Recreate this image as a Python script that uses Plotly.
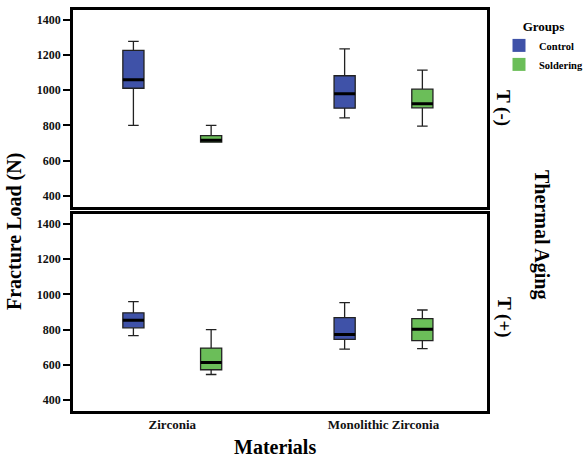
import plotly.graph_objects as go

# ---------------- data ----------------
materials = ["Zirconia", "Monolithic Zirconia"]
groups = ["Control", "Soldering"]

# T (-) panel (no thermal aging)
tneg_control_low = [800, 843]
tneg_control_q1 = [1011, 898]
tneg_control_med = [1059, 980]
tneg_control_q3 = [1226, 1082]
tneg_control_high = [1277, 1235]

tneg_solder_low = [705, 796]
tneg_solder_q1 = [705, 900]
tneg_solder_med = [716, 923]
tneg_solder_q3 = [742, 1006]
tneg_solder_high = [800, 1114]

# T (+) panel (thermal aging)
tpos_control_low = [766, 689]
tpos_control_q1 = [810, 744]
tpos_control_med = [853, 772]
tpos_control_q3 = [895, 868]
tpos_control_high = [959, 953]

tpos_solder_low = [545, 692]
tpos_solder_q1 = [572, 737]
tpos_solder_med = [613, 802]
tpos_solder_q3 = [695, 862]
tpos_solder_high = [800, 911]

y_ticks = [400, 600, 800, 1000, 1200, 1400]

# ---------------- style ----------------
BLUE = "#3F52A8"
GREEN = "#6BBE59"
FONT = "Liberation Serif, Times New Roman, DejaVu Serif, serif"
W, H = 586, 458
ML, MR, MT, MB = 73, 99, 10, 47
PW, PH = W - ML - MR, H - MT - MB


def px_x(px):
    return (px - ML) / PW


def px_y(py):
    return (H - MB - py) / PH


fig = go.Figure()

panels = [
    ("x", "y", [tneg_control_low, tneg_control_q1, tneg_control_med, tneg_control_q3, tneg_control_high],
     [tneg_solder_low, tneg_solder_q1, tneg_solder_med, tneg_solder_q3, tneg_solder_high]),
    ("x2", "y2", [tpos_control_low, tpos_control_q1, tpos_control_med, tpos_control_q3, tpos_control_high],
     [tpos_solder_low, tpos_solder_q1, tpos_solder_med, tpos_solder_q3, tpos_solder_high]),
]

for xa, ya, ctrl, sold in panels:
    for name, stats, color in [("Control", ctrl, BLUE), ("Soldering", sold, GREEN)]:
        low, q1, med, q3, high = stats
        fig.add_trace(go.Box(
            x=materials, q1=q1, median=med, q3=q3, lowerfence=low, upperfence=high,
            name=name, fillcolor=color, line=dict(color="#222222", width=1.3),
            whiskerwidth=0.5, offsetgroup=name, showlegend=False,
            xaxis=xa, yaxis=ya, hoverinfo="skip",
        ))
        # thicker median line overlay
        fig.add_trace(go.Box(
            x=materials, q1=med, median=med, q3=med, lowerfence=med, upperfence=med,
            name=name, fillcolor="rgba(0,0,0,0)", line=dict(color="#000000", width=3),
            whiskerwidth=0, offsetgroup=name, showlegend=False,
            xaxis=xa, yaxis=ya, hoverinfo="skip",
        ))

# legend entries
for name, color in [("Control", BLUE), ("Soldering", GREEN)]:
    fig.add_trace(go.Scatter(
        x=[None], y=[None], mode="markers", name="<b>" + name + "</b>",
        marker=dict(symbol="square", size=13, color=color),
        xaxis="x", yaxis="y",
    ))

axis_common = dict(
    showline=True, linecolor="black", linewidth=2.5, mirror=True,
    showgrid=False, zeroline=False,
)
ytick_text = ["<b>%d</b>" % v for v in y_ticks]
xtick_text = ["<b>%s</b>" % m for m in materials]

fig.update_layout(
    width=W, height=H,
    margin=dict(l=ML, r=MR, t=MT, b=MB, autoexpand=False),
    paper_bgcolor="white", plot_bgcolor="white",
    boxmode="group", boxgap=0.264, boxgroupgap=0.728,
    font=dict(family=FONT, color="black"),
    xaxis=dict(**axis_common, domain=[0, 1], anchor="y", type="category",
               categoryorder="array", categoryarray=materials,
               range=[-0.47, 1.49], showticklabels=False, ticks=""),
    xaxis2=dict(**axis_common, domain=[0, 1], anchor="y2", type="category",
                categoryorder="array", categoryarray=materials, matches="x",
                range=[-0.47, 1.49], ticks="",
                tickvals=materials, ticktext=xtick_text,
                tickfont=dict(family=FONT, size=13, color="#111")),
    yaxis=dict(**axis_common, domain=[0.509, 1], anchor="x", range=[338, 1455],
               tickvals=y_ticks, ticktext=ytick_text,
               ticks="outside", ticklen=7, tickwidth=1.5, tickcolor="black",
               tickfont=dict(family=FONT, size=12, color="#111")),
    yaxis2=dict(**axis_common, domain=[0, 0.491], anchor="x2", range=[338, 1455],
                tickvals=y_ticks, ticktext=ytick_text,
                ticks="outside", ticklen=7, tickwidth=1.5, tickcolor="black",
                tickfont=dict(family=FONT, size=12, color="#111")),
    legend=dict(
        x=px_x(499), y=px_y(14), xanchor="left", yanchor="top",
        title=dict(text="<b>Groups</b>", font=dict(family=FONT, size=13), side="top center"),
        font=dict(family=FONT, size=10.5), itemwidth=30, tracegroupgap=0,
        bgcolor="rgba(0,0,0,0)",
    ),
    showlegend=True,
)

annos = [
    dict(text="<b>Fracture Load (N)</b>", x=px_x(15), y=px_y(232), textangle=-90, size=20),
    dict(text="<b>Materials</b>", x=px_x(275), y=px_y(447), textangle=0, size=20),
    dict(text="<b>T (-)</b>", x=px_x(503), y=px_y(108), textangle=90, size=19),
    dict(text="<b>T (+)</b>", x=px_x(504), y=px_y(317), textangle=90, size=19),
    dict(text="<b>Thermal Aging</b>", x=px_x(542), y=px_y(234), textangle=90, size=20),
]
for a in annos:
    fig.add_annotation(
        text=a["text"], x=a["x"], y=a["y"], xref="paper", yref="paper",
        xanchor="center", yanchor="middle", showarrow=False, textangle=a["textangle"],
        font=dict(family=FONT, size=a["size"], color="black"),
    )

fig.write_html("out.html", config={"displayModeBar": False},
               post_script="document.body.style.margin='0';")
